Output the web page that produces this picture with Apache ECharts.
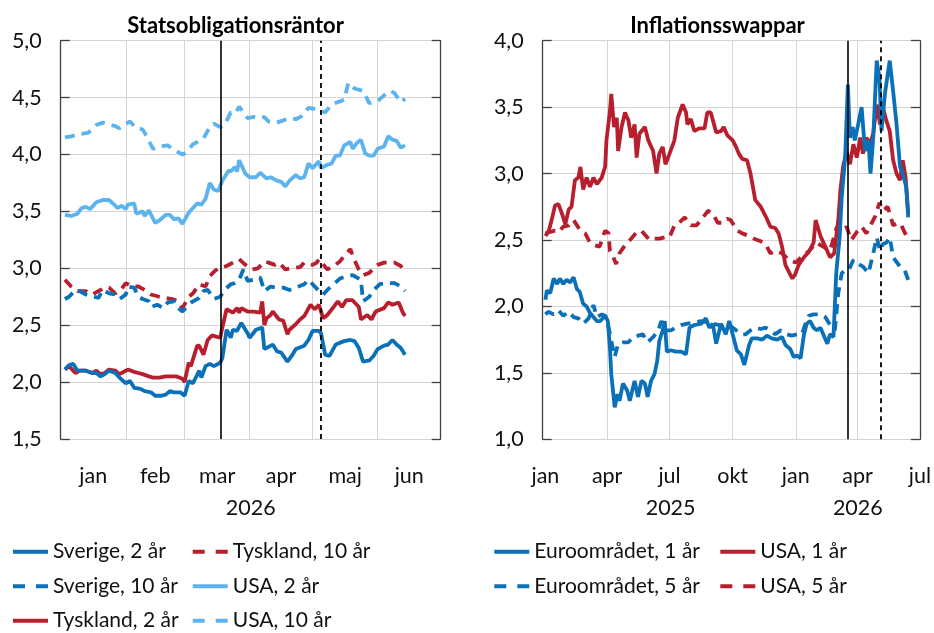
<!DOCTYPE html>
<html>
<head>
<meta charset="utf-8">
<script src="https://cdn.jsdelivr.net/npm/echarts@6/dist/echarts.min.js"></script>
<style>
html,body{margin:0;padding:0;background:#fff;}
#chart{width:934px;height:633px;}
</style>
</head>
<body>
<div id="chart"></div>
<script>
// ---------- DATA ----------
// Left panel: days since 2026-01-01
const monthNames = ['jan','feb','mar','apr','maj','jun','jul','aug','sep','okt','nov','dec'];
const leftTitle = 'Statsobligationsräntor';
const rightTitle = 'Inflationsswappar';
const leftYTicks = [1.5, 2.0, 2.5, 3.0, 3.5, 4.0, 4.5, 5.0];
const rightYTicks = [1.0, 1.5, 2.0, 2.5, 3.0, 3.5, 4.0];

const sverige2Days = [2,4,6,8,12,15,17,19,21,23,26,28,31,33,35,38,40,43,45,48,50,52,54,57,59,61,63,66,67,69,71,73,76,77,79,81,82,84,86,89,90,93,96,97,99,101,103,105,108,110,112,116,118,120,123,124,126,128,131,135,138,140,142,144,147,149,151,154,156,158,160,162,164];
const sverige2 = [2.11,2.15,2.16,2.10,2.10,2.08,2.08,2.05,2.07,2.10,2.08,2.04,1.99,2.01,1.95,1.94,1.92,1.91,1.88,1.88,1.89,1.92,1.91,1.91,1.88,2.01,1.99,2.10,2.04,2.14,2.16,2.14,2.17,2.21,2.46,2.39,2.46,2.45,2.52,2.43,2.39,2.46,2.48,2.29,2.31,2.33,2.27,2.26,2.18,2.23,2.29,2.32,2.37,2.45,2.45,2.43,2.24,2.23,2.33,2.36,2.37,2.36,2.30,2.18,2.19,2.23,2.29,2.32,2.33,2.37,2.33,2.30,2.24];

const sverige10Days = [2,4,7,9,12,16,18,20,23,26,28,31,32,35,37,39,42,43,46,49,51,54,56,58,61,63,66,68,70,73,76,78,81,83,85,87,89,92,95,97,100,103,106,109,112,116,118,120,123,125,127,130,133,136,139,140,143,144,147,149,152,155,159,162,164];
const sverige10 = [2.73,2.75,2.81,2.80,2.77,2.75,2.74,2.81,2.78,2.77,2.73,2.77,2.84,2.83,2.75,2.73,2.71,2.66,2.68,2.65,2.70,2.71,2.65,2.62,2.68,2.71,2.74,2.80,2.81,2.73,2.75,2.81,2.86,2.87,2.90,2.99,2.89,2.90,2.92,2.80,2.84,2.83,2.83,2.81,2.83,2.86,2.90,2.86,2.80,2.77,2.81,2.86,2.91,2.93,2.94,2.93,2.90,2.71,2.75,2.81,2.86,2.87,2.87,2.84,2.80];

const tyskland2Days = [2,4,7,9,12,15,17,19,21,23,26,28,31,32,35,37,39,42,44,47,50,52,55,58,59,61,62,65,66,68,70,72,74,76,77,79,81,82,84,85,86,89,92,95,96,97,98,100,101,104,106,108,109,112,114,116,119,121,123,125,127,130,132,134,136,139,142,143,146,148,150,154,156,158,161,163,164];
const tyskland2 = [2.11,2.14,2.08,2.10,2.10,2.08,2.10,2.07,2.08,2.11,2.10,2.07,2.10,2.11,2.09,2.08,2.07,2.05,2.04,2.04,2.05,2.05,2.05,2.03,2.00,2.17,2.14,2.32,2.32,2.24,2.37,2.41,2.40,2.39,2.48,2.64,2.62,2.61,2.65,2.61,2.65,2.62,2.62,2.61,2.71,2.50,2.56,2.59,2.62,2.55,2.54,2.42,2.46,2.51,2.55,2.58,2.68,2.64,2.68,2.56,2.59,2.66,2.71,2.66,2.72,2.72,2.66,2.55,2.59,2.55,2.62,2.65,2.70,2.68,2.70,2.61,2.58];

const tyskland10Days = [2,5,8,12,15,19,21,23,26,29,31,34,37,40,43,47,50,53,56,58,61,63,66,69,71,73,75,79,82,85,88,91,94,97,99,102,104,107,110,114,116,120,122,123,127,130,133,135,138,139,142,144,147,149,151,154,157,159,162,164];
const tyskland10 = [2.90,2.84,2.80,2.80,2.77,2.81,2.83,2.83,2.78,2.82,2.87,2.84,2.84,2.81,2.77,2.75,2.74,2.73,2.71,2.65,2.75,2.78,2.86,2.84,2.93,2.97,3.00,3.02,3.05,3.08,3.03,2.99,3.00,3.06,3.05,3.03,3.05,2.99,3.00,3.01,3.05,3.03,3.05,3.08,2.99,3.02,3.06,3.11,3.17,3.11,2.99,2.94,2.96,3.00,3.03,3.05,3.05,3.05,3.02,2.96];

const usa2Days = [2,5,8,10,12,14,17,20,23,26,27,29,31,32,35,36,39,40,42,45,47,50,52,54,56,58,61,65,67,69,71,73,75,77,80,81,83,84,85,88,90,93,95,98,100,103,105,107,109,112,114,116,118,120,123,124,127,129,131,133,135,138,139,141,143,145,147,149,151,154,156,158,160,162,164];
const usa2 = [3.47,3.46,3.48,3.53,3.54,3.52,3.58,3.60,3.60,3.55,3.53,3.55,3.52,3.56,3.57,3.48,3.50,3.46,3.51,3.40,3.42,3.47,3.47,3.43,3.44,3.39,3.49,3.57,3.56,3.61,3.75,3.69,3.68,3.77,3.86,3.85,3.89,3.85,3.95,3.83,3.80,3.80,3.84,3.79,3.80,3.77,3.76,3.72,3.77,3.82,3.79,3.80,3.92,3.88,3.94,3.88,3.91,3.92,3.99,3.99,4.08,4.11,4.05,4.10,4.13,4.01,3.99,3.99,4.05,4.07,4.16,4.13,4.12,4.06,4.08];

const usa10Days = [2,5,9,13,17,20,26,28,31,33,36,39,40,44,47,51,54,58,60,63,66,68,71,73,76,78,81,83,85,89,92,95,97,99,103,106,109,112,115,118,121,126,129,132,135,137,140,144,147,151,154,157,159,162,164];
const usa10 = [4.15,4.16,4.18,4.19,4.26,4.28,4.25,4.23,4.27,4.29,4.23,4.22,4.19,4.05,4.07,4.08,4.04,4.00,4.02,4.09,4.12,4.14,4.24,4.27,4.24,4.26,4.37,4.36,4.42,4.32,4.33,4.32,4.33,4.29,4.28,4.30,4.32,4.31,4.34,4.41,4.40,4.37,4.44,4.46,4.48,4.63,4.58,4.56,4.45,4.47,4.52,4.56,4.54,4.46,4.49];

// Right panel: days since 2025-01-01
const euro1Days = [0,2,7,12,17,21,26,31,36,41,46,50,55,60,65,70,75,80,87,91,94,96,101,105,108,113,119,123,130,135,140,145,149,154,159,163,166,171,174,177,183,190,198,205,210,217,227,234,239,244,249,256,263,268,273,279,285,290,297,301,309,316,323,330,338,345,350,357,362,367,372,377,381,386,391,396,401,406,411,415,420,424,429,432,437,441,444,448,451,456,461,466,471,474,478,483,487,490,495,502,507,512,517,521,526,529];
const euro1 = [2.05,2.12,2.10,2.21,2.17,2.21,2.17,2.20,2.18,2.22,2.13,2.11,2.02,2.00,1.95,1.92,1.89,1.89,1.93,1.89,1.69,1.49,1.24,1.34,1.29,1.42,1.37,1.29,1.44,1.32,1.44,1.42,1.32,1.44,1.49,1.59,1.74,1.82,1.89,1.66,1.67,1.66,1.66,1.64,1.84,1.86,1.87,1.91,1.84,1.87,1.72,1.87,1.79,1.89,1.79,1.67,1.64,1.56,1.71,1.76,1.76,1.75,1.78,1.76,1.75,1.77,1.71,1.68,1.62,1.63,1.61,1.79,1.87,1.89,1.84,1.82,1.84,1.78,1.72,1.79,1.77,2.25,2.52,2.82,3.12,3.67,3.27,3.35,3.25,3.37,3.50,3.17,3.25,3.00,3.27,3.85,3.72,3.32,3.60,3.85,3.62,3.37,3.05,3.00,2.90,2.67];

const euro5Days = [0,4,12,19,26,34,41,48,55,63,70,75,82,87,91,96,101,106,113,121,128,135,142,149,157,164,169,176,183,190,198,207,217,227,237,244,253,261,268,278,285,292,299,306,314,321,328,335,343,352,359,367,374,377,384,391,401,408,415,422,427,432,437,442,449,456,463,471,478,483,488,492,497,502,507,517,524,529];
const euro5 = [1.94,1.96,1.94,1.97,1.93,1.96,1.92,1.91,1.87,1.91,2.01,1.92,1.94,1.93,1.87,1.74,1.62,1.72,1.73,1.73,1.77,1.78,1.79,1.73,1.77,1.81,1.89,1.82,1.82,1.84,1.86,1.87,1.88,1.89,1.88,1.87,1.86,1.84,1.86,1.82,1.79,1.79,1.82,1.84,1.83,1.84,1.82,1.79,1.82,1.79,1.78,1.79,1.79,1.84,1.93,1.94,1.94,1.92,1.86,1.82,2.10,2.25,2.27,2.27,2.35,2.32,2.30,2.25,2.40,2.52,2.42,2.47,2.48,2.52,2.37,2.30,2.27,2.20];

const usa1Days = [0,5,9,14,19,24,29,34,38,43,48,51,55,60,65,70,75,82,87,89,94,96,100,104,106,111,116,121,125,130,133,137,145,150,157,162,166,171,175,181,188,193,200,205,207,212,217,224,232,236,241,249,256,260,265,273,278,282,287,294,299,306,314,321,328,335,340,345,350,355,360,364,369,377,384,391,394,401,408,415,421,427,430,434,439,444,449,454,459,463,468,473,478,483,488,492,497,502,507,512,517,521,525,529];
const usa1 = [2.53,2.57,2.65,2.76,2.77,2.70,2.62,2.73,2.75,2.95,2.97,3.05,2.88,2.97,2.90,2.97,2.92,2.97,3.05,3.25,3.47,3.60,3.35,3.42,3.17,3.35,3.46,3.40,3.27,3.37,3.12,3.30,3.35,3.25,3.17,3.00,3.15,3.20,3.07,3.15,3.25,3.42,3.52,3.46,3.37,3.41,3.32,3.34,3.34,3.46,3.46,3.31,3.32,3.35,3.29,3.25,3.20,3.15,3.11,3.10,3.00,2.80,2.75,2.68,2.60,2.59,2.55,2.45,2.31,2.26,2.21,2.24,2.31,2.37,2.41,2.48,2.65,2.53,2.45,2.37,2.40,2.65,2.87,3.05,3.17,3.07,3.22,3.12,3.27,3.15,3.27,3.22,3.30,3.52,3.37,3.50,3.40,3.32,3.10,3.00,2.95,3.10,2.98,2.70];

const usa5Days = [0,7,14,19,26,34,41,46,51,58,65,72,79,87,92,94,99,103,108,116,125,133,140,152,159,166,174,181,188,195,203,212,220,227,237,244,251,258,265,270,280,287,297,304,314,321,328,335,345,355,365,375,385,395,405,415,425,432,439,446,454,461,468,476,481,487,492,499,507,514,519,529];
const usa5 = [2.55,2.56,2.57,2.56,2.60,2.61,2.65,2.61,2.57,2.55,2.48,2.46,2.45,2.57,2.55,2.42,2.37,2.32,2.40,2.46,2.51,2.56,2.57,2.50,2.51,2.51,2.52,2.52,2.61,2.63,2.67,2.61,2.61,2.65,2.72,2.70,2.63,2.63,2.66,2.65,2.57,2.55,2.53,2.51,2.49,2.47,2.40,2.42,2.40,2.35,2.33,2.38,2.42,2.48,2.45,2.42,2.60,2.56,2.60,2.50,2.56,2.60,2.55,2.63,2.68,2.78,2.72,2.75,2.61,2.63,2.61,2.50];

// Event dates (vertical reference lines)
const eventSolid = [2026, 2, 18];
const eventDashed = [2026, 4, 5];

// ---------- HELPERS ----------
const FONT = 'Lato';
const C_DARK = '#0A70B8';
const C_RED = '#B81F2E';
const C_LIGHT = '#5DB3EE';
const AXIS_C = '#404040';
const GRID_C = '#D4D4D4';
const ICON_SOLID = 'path://M0,0H35V4H0Z';
const ICON_DASHED = 'path://M0,0H12V4H0Z M23,0H35V4H23Z';

function ts(y, m, d) { return new Date(y, m, d).getTime(); }
function pairs(year, days, vals) { return days.map((d, i) => [ts(year, 0, 1 + d), vals[i]]); }
function comma(v) { return v.toFixed(1).replace('.', ','); }

const leftMin = ts(2026, 0, 1), leftMax = ts(2026, 6, 1);
const rightMin = ts(2024, 11, 28), rightMax = ts(2026, 6, 1);

const leftMonthStarts = [1,2,3,4,5].map(m => ts(2026, m, 1));
const leftMonthMids = [0,1,2,3,4,5].map(m => (ts(2026, m, 1) + ts(2026, m + 1, 1)) / 2);
const rightQuarterStarts = [ts(2025,3,1), ts(2025,6,1), ts(2025,9,1), ts(2026,0,1), ts(2026,3,1)];
const rightLabelVals = [ts(2025,0,1), ts(2025,3,1), ts(2025,6,1), ts(2025,9,1), ts(2026,0,1), ts(2026,3,1), ts(2026,6,1)];
const leftYearMid = [(leftMin + leftMax) / 2];
const rightYearMids = [(ts(2025,0,1) + ts(2026,0,1)) / 2, (ts(2026,0,1) + rightMax) / 2];

const labelStyle = { fontFamily: FONT, fontSize: 21.5, color: '#111' };

function monthAxis(gi, min, max, tickVals, labelVals) {
  return {
    type: 'value', gridIndex: gi, min: min, max: max, scale: true,
    axisLine: { show: false },
    axisTick: { show: false, customValues: tickVals },
    splitLine: { show: true, lineStyle: { color: GRID_C, width: 1 } },
    axisLabel: Object.assign({
      customValues: labelVals, margin: 26, hideOverlap: false,
      showMinLabel: true, showMaxLabel: true,
      formatter: v => monthNames[new Date(v).getMonth()]
    }, labelStyle)
  };
}
function yearAxis(gi, min, max, labelVals) {
  return {
    type: 'value', gridIndex: gi, min: min, max: max, scale: true, position: 'bottom',
    axisLine: { show: false }, axisTick: { show: false }, splitLine: { show: false },
    axisLabel: Object.assign({
      customValues: labelVals, margin: 58, hideOverlap: false,
      formatter: v => String(new Date(v).getFullYear())
    }, labelStyle)
  };
}
function valAxis(gi, min, max, right) {
  return {
    type: 'value', gridIndex: gi, min: min, max: max, interval: 0.5,
    position: right ? 'right' : 'left',
    axisLine: { show: true, lineStyle: { color: AXIS_C, width: 1.3 } },
    axisTick: { show: true, inside: true, length: 9, lineStyle: { color: AXIS_C, width: 1.3 } },
    splitLine: { show: !right, lineStyle: { color: GRID_C, width: 1 } },
    axisLabel: right ? { show: false } : Object.assign({ margin: 19, formatter: comma }, labelStyle)
  };
}
function line(name, data, color, dashed, xi, yi) {
  return {
    name: name, type: 'line', xAxisIndex: xi, yAxisIndex: yi, data: data,
    showSymbol: false, symbol: 'none', smooth: false, animation: false,
    lineStyle: { color: color, width: 3.8, type: dashed ? [10, 7] : 'solid', cap: 'butt' },
    itemStyle: { color: color }
  };
}
function vlines(xi, yi, solidTs, dashedTs) {
  return {
    type: 'line', xAxisIndex: xi, yAxisIndex: yi, data: [], silent: true, animation: false,
    markLine: {
      silent: true, symbol: ['none', 'none'], animation: false,
      label: { show: false },
      data: [
        { xAxis: solidTs, lineStyle: { color: '#000', width: 1.6, type: 'solid' } },
        { xAxis: dashedTs, lineStyle: { color: '#000', width: 1.8, type: [5, 4] } }
      ]
    }
  };
}
function legend(left, top, names, dashedNames) {
  return {
    orient: 'vertical', left: left, top: top, padding: 0, itemGap: 12.5, itemWidth: 35, itemHeight: 4,
    selectedMode: false,
    textStyle: { fontFamily: FONT, fontSize: 21, color: '#111', lineHeight: 22 },
    data: names.map(n => ({
      name: n,
      icon: dashedNames.includes(n) ? ICON_DASHED : ICON_SOLID
    }))
  };
}

const solidTs = ts(eventSolid[0], eventSolid[1], eventSolid[2]);
const dashedTs = ts(eventDashed[0], eventDashed[1], eventDashed[2]);

const option = {
  backgroundColor: '#fff',
  animation: false,
  textStyle: { fontFamily: FONT },
  grid: [
    { left: 60.7, right: 934 - 440.7, top: 40.7, bottom: 633 - 439 },
    { left: 542.7, right: 934 - 922, top: 40.7, bottom: 633 - 439.3 }
  ],
  graphic: [
    { type: 'text', x: 235.5, y: 26, style: { text: leftTitle, font: 'bold 22px ' + FONT, fill: '#000', align: 'center', verticalAlign: 'middle' } },
    { type: 'text', x: 717.5, y: 26, style: { text: rightTitle, font: 'bold 22px ' + FONT, fill: '#000', align: 'center', verticalAlign: 'middle' } }
  ],
  xAxis: [
    monthAxis(0, leftMin, leftMax, leftMonthStarts, leftMonthMids),
    yearAxis(0, leftMin, leftMax, leftYearMid),
    monthAxis(1, rightMin, rightMax, rightQuarterStarts, rightLabelVals),
    yearAxis(1, rightMin, rightMax, rightYearMids)
  ],
  yAxis: [
    valAxis(0, leftYTicks[0], leftYTicks[leftYTicks.length - 1], false),
    valAxis(0, leftYTicks[0], leftYTicks[leftYTicks.length - 1], true),
    valAxis(1, rightYTicks[0], rightYTicks[rightYTicks.length - 1], false),
    valAxis(1, rightYTicks[0], rightYTicks[rightYTicks.length - 1], true)
  ],
  legend: [
    legend(13, 540.7, ['Sverige, 2 år', 'Sverige, 10 år', 'Tyskland, 2 år'], ['Sverige, 10 år']),
    legend(192.7, 540.7, ['Tyskland, 10 år', 'USA, 2 år', 'USA, 10 år'], ['Tyskland, 10 år', 'USA, 10 år']),
    legend(494.3, 540.7, ['Euroområdet, 1 år', 'Euroområdet, 5 år'], ['Euroområdet, 5 år']),
    legend(720.3, 540.7, ['USA, 1 år', 'USA, 5 år'], ['USA, 5 år'])
  ],
  series: [
    vlines(0, 0, solidTs, dashedTs),
    line('USA, 10 år', pairs(2026, usa10Days, usa10), C_LIGHT, true, 0, 0),
    line('USA, 2 år', pairs(2026, usa2Days, usa2), C_LIGHT, false, 0, 0),
    line('Tyskland, 10 år', pairs(2026, tyskland10Days, tyskland10), C_RED, true, 0, 0),
    line('Sverige, 10 år', pairs(2026, sverige10Days, sverige10), C_DARK, true, 0, 0),
    line('Tyskland, 2 år', pairs(2026, tyskland2Days, tyskland2), C_RED, false, 0, 0),
    line('Sverige, 2 år', pairs(2026, sverige2Days, sverige2), C_DARK, false, 0, 0),
    vlines(2, 2, solidTs, dashedTs),
    line('USA, 5 år', pairs(2025, usa5Days, usa5), C_RED, true, 2, 2),
    line('Euroområdet, 5 år', pairs(2025, euro5Days, euro5), C_DARK, true, 2, 2),
    line('USA, 1 år', pairs(2025, usa1Days, usa1), C_RED, false, 2, 2),
    line('Euroområdet, 1 år', pairs(2025, euro1Days, euro1), C_DARK, false, 2, 2)
  ]
};

const chart = echarts.init(document.getElementById('chart'), null, { renderer: 'canvas' });
chart.setOption(option);
</script>
</body>
</html>
